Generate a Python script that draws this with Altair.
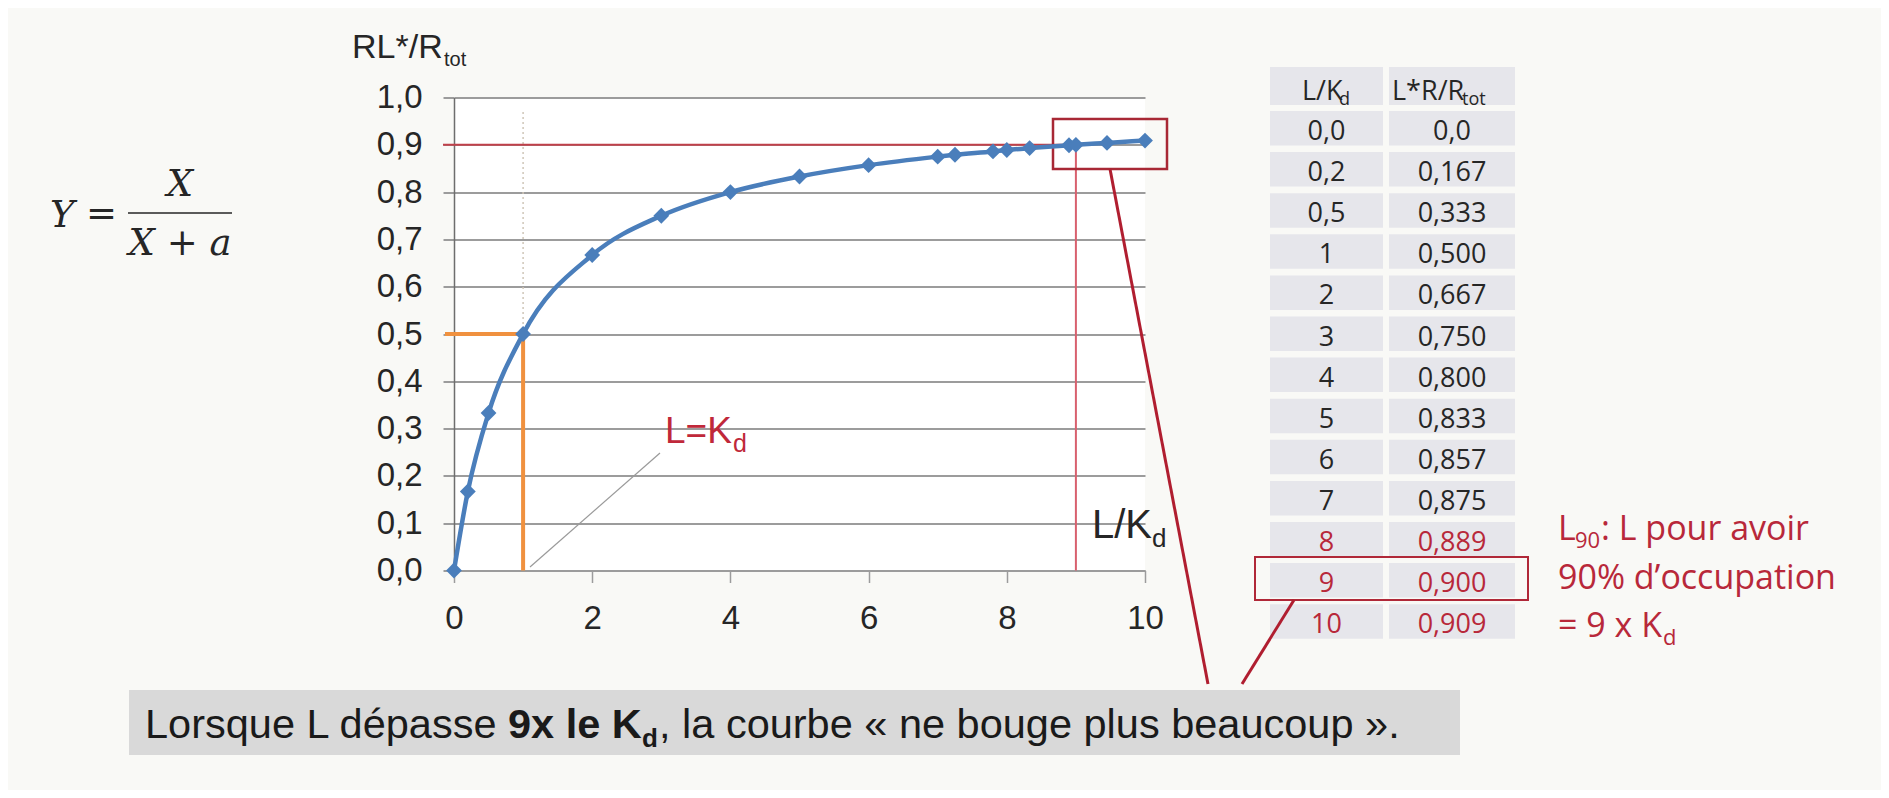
import altair as alt
import pandas as pd

# ---------------- data ----------------
# plotted curve: L/Kd  vs  fraction of occupied receptors
curve_x = [0, 0.2, 0.5, 1, 2, 3, 4, 5, 6, 7, 7.25, 7.8, 8, 8.33, 8.9, 9, 9.45, 10]
curve_y = [0.0, 0.167, 0.333, 0.5, 0.667, 0.75, 0.8, 0.833, 0.857, 0.875,
           0.879, 0.886, 0.889, 0.893, 0.899, 0.9, 0.904, 0.909]

# table on the right
table_lkd = ["0,0", "0,2", "0,5", "1", "2", "3", "4", "5", "6", "7", "8", "9", "10"]
table_occ = ["0,0", "0,167", "0,333", "0,500", "0,667", "0,750", "0,800",
             "0,833", "0,857", "0,875", "0,889", "0,900", "0,909"]
red_rows = ["8", "9", "10"]

x_ticks = [0, 2, 4, 6, 8, 10]
y_ticks = [0.0, 0.1, 0.2, 0.3, 0.4, 0.5, 0.6, 0.7, 0.8, 0.9, 1.0]

half_x = 1      # L = Kd
half_y = 0.5
l90_x = 9       # L90 = 9 x Kd
l90_y = 0.9

# ---------------- style ----------------
BLUE = "#4a7ebb"
ORANGE = "#f0913f"
RED = "#b8283a"
DARK = "#262626"
GRID = "#9c9c9c"
BG = "#f9f9f6"
SANS = "Liberation Sans"
CAL = "Open Sans"

# layout helpers: convert page layout positions to data units of the shared scales
X0, XS = 454.0, 69.1
Y0, YS = 570.5, 473.0
def ux(px):
    return (px - X0) / XS
def uy(py):
    return (Y0 - py) / YS

xs = alt.Scale(domain=[0, 10], nice=False, zero=False)
ys = alt.Scale(domain=[0, 1], nice=False, zero=False)

x_axis = alt.Axis(values=x_ticks, format="d", title=None, grid=False,
                  labelFont=SANS, labelFontSize=33, labelColor=DARK,
                  labelPadding=20, tickSize=12, tickColor=GRID, tickWidth=1.5,
                  domainColor=GRID, domainWidth=2, labelFlush=False)
y_axis = alt.Axis(values=y_ticks, title=None, grid=True, gridColor=GRID,
                  gridWidth=2, labelFont=SANS, labelFontSize=33,
                  labelColor=DARK, labelPadding=21, tickSize=11,
                  tickColor=GRID, tickWidth=2, domainColor="#6e6e6e",
                  domainWidth=1.5, labelFlush=False,
                  labelExpr="replace(format(datum.value, '.1f'), '.', ',')")

# every layer shares exactly the same axis definition so they merge cleanly
XQ = alt.X("x:Q", scale=xs, axis=x_axis)
YQ = alt.Y("y:Q", scale=ys, axis=y_axis)


def txt(rows, size, color, font=SANS, weight="normal", align="left",
        baseline="alphabetic", italic=False):
    df = pd.DataFrame(rows, columns=["x", "y", "t"])
    kw = dict(font=font, fontSize=size, fontWeight=weight, color=color,
              align=align, baseline=baseline)
    if italic:
        kw["fontStyle"] = "italic"
    return alt.Chart(df).mark_text(**kw).encode(x=XQ, y=YQ, text="t:N")


def seg(rows, color, width, dash=None):
    df = pd.DataFrame(rows, columns=["x", "y", "x2", "y2"])
    kw = dict(color=color, strokeWidth=width)
    if dash:
        kw["strokeDash"] = dash
    return alt.Chart(df).mark_rule(**kw).encode(x=XQ, y=YQ, x2="x2:Q", y2="y2:Q")


def box(rows, fill=None, stroke=None, width=0):
    df = pd.DataFrame(rows, columns=["x", "y", "x2", "y2"])
    kw = dict(strokeWidth=width)
    if fill:
        kw["fill"] = fill
    else:
        kw["fillOpacity"] = 0
    if stroke:
        kw["stroke"] = stroke
    return alt.Chart(df).mark_rect(**kw).encode(x=XQ, y=YQ, x2="x2:Q", y2="y2:Q")


# ---------------- main curve ----------------
curve_df = pd.DataFrame({"x": curve_x, "y": curve_y})
curve = alt.Chart(curve_df).mark_line(
    color=BLUE, strokeWidth=4.5, interpolate="monotone",
    point=alt.OverlayMarkDef(shape="diamond", size=250, filled=True, color=BLUE,
                             opacity=1)
).encode(x=XQ, y=YQ)

# ---------------- guide lines in the plot ----------------
dotted = seg([[half_x, half_y, half_x, uy(110)]], "#cfc6b8", 1.5, dash=[2, 3])
orange = seg([[ux(445), half_y, half_x, half_y],
              [half_x, half_y, half_x, 0]], ORANGE, 4)
red_h = seg([[ux(443), l90_y, l90_x, l90_y]], "#c0404a", 2)
red_v = seg([[l90_x, l90_y, l90_x, 0]], "#d8606e", 2)
red_box = box([[ux(1053), uy(119), ux(1167), uy(169)]], stroke="#a82835", width=2.5)
pointer_gray = seg([[ux(660), uy(453), ux(530), uy(567)]], "#9a9a9a", 1.2)

# axis titles / labels drawn as text with subscripts
y_title = txt([[ux(352), uy(58), "RL*/R"]], 34, DARK)
y_title_sub = txt([[ux(444), uy(66), "tot"]], 20, DARK)
x_title = txt([[ux(1092), uy(538), "L/K"]], 40, DARK)
x_title_sub = txt([[ux(1152), uy(547), "d"]], 26, DARK)
lkd = txt([[ux(665), uy(443), "L=K"]], 37, "#c0283a")
lkd_sub = txt([[ux(733), uy(452), "d"]], 25, "#c0283a")

# ---------------- formula ----------------
SERIF = "DejaVu Serif"
f_y = txt([[ux(50), uy(227), "Y"]], 37, DARK, font=SERIF, italic=True)
f_eq = txt([[ux(86), uy(226), "="]], 37, DARK, font=SERIF)
f_num = txt([[ux(180), uy(196), "X"]], 37, DARK, font=SERIF, italic=True, align="center")
f_den = txt([[ux(180), uy(255), "X + a"]], 37, DARK, font=SERIF, italic=True, align="center")
f_bar = seg([[ux(128), uy(213), ux(232), uy(213)]], DARK, 1.6)

# ---------------- table ----------------
ROW0, PITCH, ROWH = 111.0, 41.1, 34.5
C1L, C1R, C2L, C2R = 1270, 1383, 1389, 1515
cells, t1_black, t2_black, t1_red, t2_red = [], [], [], [], []
cells.append([ux(C1L), uy(67), ux(C1R), uy(105)])
cells.append([ux(C2L), uy(67), ux(C2R), uy(105)])
for i, (a, b) in enumerate(zip(table_lkd, table_occ)):
    top = ROW0 + PITCH * i
    cells.append([ux(C1L), uy(top), ux(C1R), uy(top + ROWH)])
    cells.append([ux(C2L), uy(top), ux(C2R), uy(top + ROWH)])
    base = uy(top + 29)
    if a in red_rows:
        t1_red.append([ux((C1L + C1R) / 2), base, a])
        t2_red.append([ux((C2L + C2R) / 2), base, b])
    else:
        t1_black.append([ux((C1L + C1R) / 2), base, a])
        t2_black.append([ux((C2L + C2R) / 2), base, b])

table_cells = box(cells, fill="#e6e6eb")
table_text = [
    txt(t1_black + t2_black, 27, DARK, font=CAL, align="center"),
    txt(t1_red + t2_red, 27, RED, font=CAL, align="center"),
    txt([[ux(1302), uy(100), "L/K"], [ux(1392), uy(100), "L*R/R"]], 27, DARK, font=CAL),
    txt([[ux(1339), uy(105), "d"], [ux(1462), uy(105), "tot"]], 18, DARK, font=CAL),
]
row9_box = box([[ux(1255), uy(557), ux(1528), uy(600)]], stroke="#b02838", width=2)

# note in red
note = [
    txt([[ux(1558), uy(540), "L"], [ux(1601), uy(540), ": L pour avoir"],
         [ux(1558), uy(589), "90% d\u2019occupation"],
         [ux(1558), uy(637), "= 9 x K"]], 34, RED, font=CAL),
    txt([[ux(1575), uy(548), "90"], [ux(1663), uy(645), "d"]], 22, RED, font=CAL),
]

# ---------------- pointer lines to the caption ----------------
pointers = seg([[ux(1110), uy(169), ux(1208), uy(684)],
                [ux(1294), uy(600), ux(1242), uy(684)]], "#b01e30", 3)

# ---------------- caption ----------------
cap_box = box([[ux(129), uy(690), ux(1460), uy(755)]], fill="#d9d9d9")
cap = [
    txt([[ux(145), uy(738), "Lorsque L d\u00e9passe "]], 41.5, "#1a1a1a"),
    txt([[ux(508), uy(738), "9x le K"]], 41.5, "#1a1a1a", weight="bold"),
    txt([[ux(642), uy(747), "d"]], 26, "#1a1a1a", weight="bold"),
    txt([[ux(659), uy(738), ", la courbe \u00ab ne bouge plus beaucoup \u00bb."]], 41.5, "#1a1a1a"),
]

layers = [dotted, orange, red_h, red_v, red_box, pointer_gray,
          y_title, y_title_sub, x_title, x_title_sub, lkd, lkd_sub,
          f_y, f_eq, f_num, f_den, f_bar,
          table_cells] + table_text + [row9_box] + note + [pointers, cap_box] + cap + [curve]

chart = alt.layer(*layers).properties(
    width=691, height=473,
    padding={"left": 446, "top": 89.5, "right": 736, "bottom": 219.5},
    autosize=alt.AutoSizeParams(type="none"),
    background=BG,
).configure_view(stroke=None, fill="white")

chart.save("out.html", embed_options={"renderer": "svg", "actions": False})
